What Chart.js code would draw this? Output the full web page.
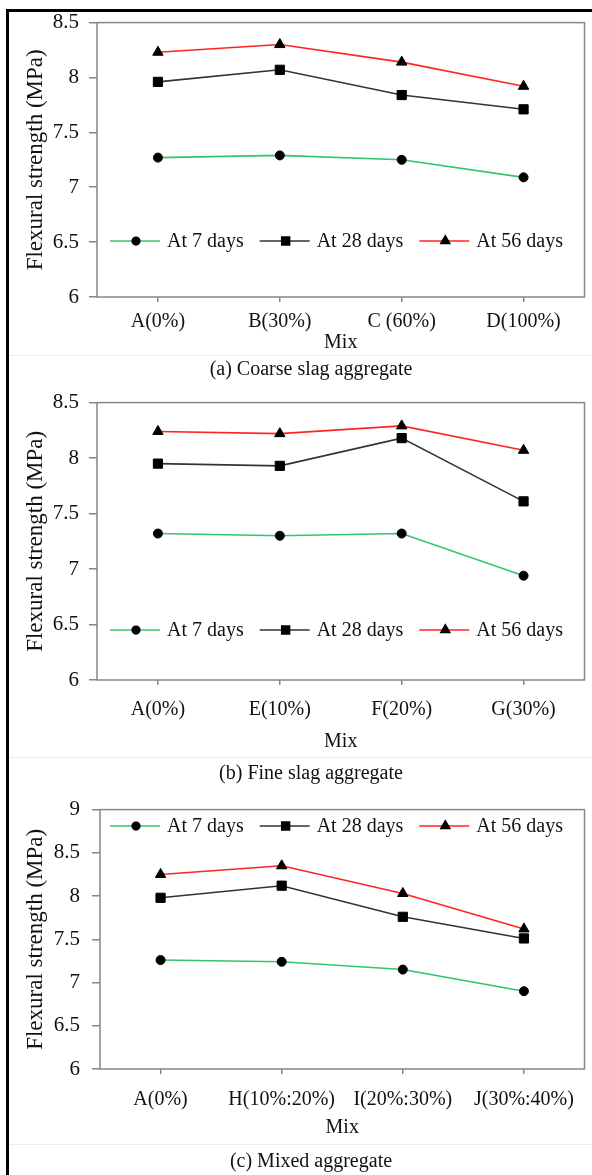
<!DOCTYPE html>
<html>
<head>
<meta charset="utf-8">
<script src="https://cdn.jsdelivr.net/npm/chart.js@4.4.1/dist/chart.umd.min.js"></script>
<style>
  html, body { margin: 0; padding: 0; background: #fff; }
  body { width: 592px; height: 1175px; position: relative; overflow: hidden; font-family: "Liberation Serif", "Times New Roman", serif; }
  .frame { position: absolute; left: 6px; top: 9px; width: 640px; height: 1240px; border-left: 3px solid #000; border-top: 3px solid #000; }
  .sep { position: absolute; left: 9px; width: 600px; height: 1px; background: #ececec; }
  canvas { position: absolute; left: 0; }
  .caption { position: absolute; left: 111px; width: 400px; text-align: center; font-size: 20px; line-height: 24px; color: #111; }
</style>
</head>
<body>
<div class="frame"></div>
<div class="sep" style="top:355px"></div>
<div class="sep" style="top:757px"></div>
<div class="sep" style="top:1144px"></div>

<canvas id="coarse" width="592" height="360" style="top:0px"></canvas>
<div class="caption" style="top:356px">(a) Coarse slag aggregate</div>

<canvas id="fine" width="592" height="380" style="top:380px"></canvas>
<div class="caption" style="top:760px">(b) Fine slag aggregate</div>

<canvas id="mixed" width="592" height="360" style="top:785px"></canvas>
<div class="caption" style="top:1148px">(c) Mixed aggregate</div>

<script>
const days = ['At 7 days', 'At 28 days', 'At 56 days']
const lineColors = ['#33c46c', '#333333', '#ff2424']
const markerStyles = ['circle', 'rect', 'triangle']
const markerSizes = [4.5, 6.5, 6]

const mixCoarse = ['A(0%)', 'B(30%)', 'C (60%)', 'D(100%)']
const coarse7 = [7.27, 7.29, 7.25, 7.09]
const coarse28 = [7.96, 8.07, 7.84, 7.71]
const coarse56 = [8.23, 8.30, 8.14, 7.92]

const mixFine = ['A(0%)', 'E(10%)', 'F(20%)', 'G(30%)']
const fine7 = [7.32, 7.30, 7.32, 6.94]
const fine28 = [7.95, 7.93, 8.18, 7.61]
const fine56 = [8.24, 8.22, 8.29, 8.07]

const mixMixed = ['A(0%)', 'H(10%:20%)', 'I(20%:30%)', 'J(30%:40%)']
const mixed7 = [7.26, 7.24, 7.15, 6.90]
const mixed28 = [7.98, 8.12, 7.76, 7.51]
const mixed56 = [8.25, 8.35, 8.03, 7.62]

const yTicksSlag = [6, 6.5, 7, 7.5, 8, 8.5]
const yTicksMixed = [6, 6.5, 7, 7.5, 8, 8.5, 9]

const serif = '"Liberation Serif", "Times New Roman", serif'
const axisGrey = '#878787'
const textColor = '#111'

Chart.defaults.font.family = serif

// grey box round the plot area
const plotBox = {
  id: 'plotBox',
  beforeDatasetsDraw(chart) {
    const { ctx, chartArea: a } = chart
    ctx.save()
    ctx.strokeStyle = axisGrey
    ctx.lineWidth = 1.5
    ctx.strokeRect(a.left, a.top, a.right - a.left, a.bottom - a.top)
    ctx.restore()
  },
}

// legend drawn inside the plot: line with marker, then label
const lineLegend = {
  id: 'lineLegend',
  afterDatasetsDraw(chart, args, opts) {
    const ctx = chart.ctx
    let x = opts.x
    const y = opts.y
    ctx.save()
    ctx.font = '20px ' + serif
    ctx.textBaseline = 'middle'
    ctx.textAlign = 'left'
    chart.data.datasets.forEach((ds) => {
      ctx.strokeStyle = ds.borderColor
      ctx.lineWidth = 1.6
      ctx.beginPath()
      ctx.moveTo(x, y)
      ctx.lineTo(x + 50, y)
      ctx.stroke()
      ctx.fillStyle = '#000'
      ctx.strokeStyle = '#000'
      Chart.helpers.drawPoint(ctx, { pointStyle: ds.pointStyle, radius: ds.pointRadius * 0.85, borderWidth: 1, rotation: 0 }, x + 26, y)
      ctx.fillStyle = textColor
      ctx.fillText(ds.label, x + 57, y + 1)
      x += 57 + ctx.measureText(ds.label).width + 16
    })
    ctx.restore()
  },
}

function panel(id, labels, s7, s28, s56, yTicks, geo) {
  return new Chart(document.getElementById(id), {
    type: 'line',
    data: {
      labels,
      datasets: [s7, s28, s56].map((values, i) => ({
        label: days[i],
        data: values,
        borderColor: lineColors[i],
        borderWidth: 1.6,
        pointStyle: markerStyles[i],
        pointRadius: markerSizes[i],
        pointBackgroundColor: '#000',
        pointBorderColor: '#000',
        pointBorderWidth: 1,
        tension: 0,
        fill: false,
      })),
    },
    options: {
      responsive: false,
      animation: false,
      devicePixelRatio: 1,
      layout: { padding: { top: geo.top, right: 6, left: 0, bottom: 0 } },
      plugins: {
        legend: { display: false },
        tooltip: { enabled: false },
        lineLegend: { x: 110, y: geo.legendY },
      },
      scales: {
        x: {
          offset: true,
          grid: { offset: false, drawOnChartArea: false, tickLength: 5, color: axisGrey, lineWidth: 1.5 },
          border: { display: false },
          ticks: { padding: geo.xPad, autoSkip: false, maxRotation: 0, color: textColor, font: { size: 20 } },
          title: { display: true, text: 'Mix', color: textColor, font: { size: 20 }, padding: { top: 0, bottom: geo.titlePad } },
          afterFit: (s) => { s.height = geo.xHeight },
        },
        y: {
          min: yTicks[0],
          max: yTicks[yTicks.length - 1],
          afterBuildTicks: (s) => { s.ticks = yTicks.map((v) => ({ value: v })) },
          grid: { drawOnChartArea: false, tickLength: 8, color: axisGrey, lineWidth: 1.5 },
          border: { display: false },
          ticks: { padding: geo.yPad, color: textColor, font: { size: 21 }, callback: (v) => String(v) },
          title: { display: true, text: 'Flexural strength (MPa)', color: textColor, font: { size: 23 }, padding: { top: 22, bottom: 0 } },
          afterFit: (s) => { s.width = geo.yWidth },
        },
      },
    },
    plugins: [plotBox, lineLegend],
  })
}

panel('coarse', mixCoarse, coarse7, coarse28, coarse56, yTicksSlag,
  { top: 17, xHeight: 63, legendY: 241, xPad: 8, titlePad: 5, yWidth: 97, yPad: 10 })
panel('fine', mixFine, fine7, fine28, fine56, yTicksSlag,
  { top: 17, xHeight: 80, legendY: 250, xPad: 13, titlePad: 6, yWidth: 97, yPad: 10 })
panel('mixed', mixMixed, mixed7, mixed28, mixed56, yTicksMixed,
  { top: 18, xHeight: 76, legendY: 41, xPad: 14, titlePad: 5, yWidth: 100, yPad: 12 })
</script>
</body>
</html>
